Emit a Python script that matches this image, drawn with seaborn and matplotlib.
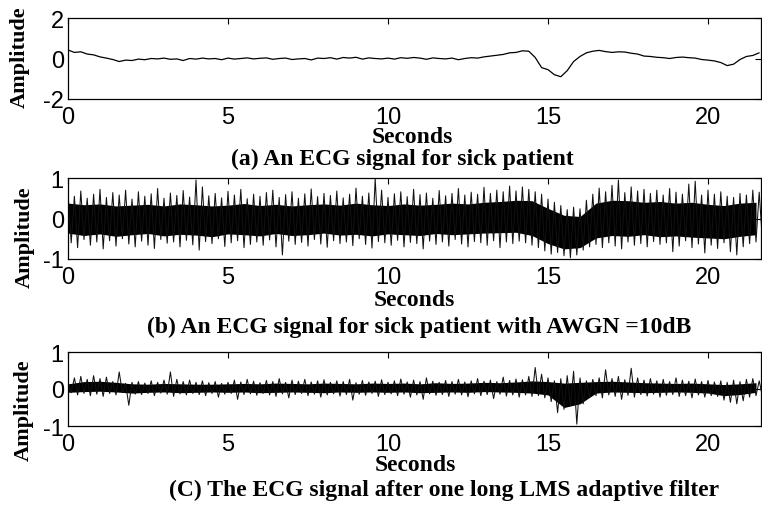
import numpy as np
import matplotlib
matplotlib.use('Agg')
import matplotlib.pyplot as plt
import seaborn as sns

# sample spacing used for the traces below (seconds)
dt = 0.2
dt_core = 0.5

# (a) clean ECG of the sick patient, one value every 0.2 s
ecg_a = [
    0.42, 0.30, 0.33, 0.22, 0.18, 0.08, 0.02, -0.05, -0.15, -0.08,
    -0.10, -0.03, -0.06, 0.00, -0.02, 0.02, -0.04, -0.02, -0.10, 0.00,
    -0.03, 0.02, -0.02, 0.00, -0.06, 0.02, -0.03, 0.00, 0.03, -0.02,
    0.01, 0.03, -0.04, 0.00, 0.02, -0.05, -0.02, 0.00, -0.07, 0.02,
    0.00, 0.04, -0.03, 0.05, 0.02, 0.06, -0.03, 0.03, 0.00, -0.02,
    0.02, -0.03, 0.04, 0.01, 0.05, 0.02, -0.04, 0.03, 0.00, -0.02,
    0.02, -0.06, 0.00, 0.04, 0.02, 0.08, 0.12, 0.16, 0.20, 0.28,
    0.30, 0.38, 0.36, 0.05, -0.45, -0.55, -0.80, -0.90, -0.60, -0.15,
    0.10, 0.28, 0.36, 0.40, 0.34, 0.30, 0.33, 0.32, 0.26, 0.22,
    0.12, 0.10, 0.06, 0.04, 0.00, 0.05, 0.07, 0.04, 0.02, -0.05,
    -0.08, -0.12, -0.20, -0.35, -0.28, -0.05, 0.10, 0.15, 0.28,
]

# (b) noisy ECG (AWGN 10 dB): spike tips above / below, every 0.2 s
noisy_hi = [
    0.62, 0.55, 0.68, 0.50, 0.60, 0.72, 0.52, 0.64, 0.58, 0.70,
    0.48, 0.66, 0.55, 0.61, 0.74, 0.50, 0.63, 0.57, 0.69, 0.53,
    0.95, 0.78, 0.56, 0.62, 0.51, 0.67, 0.58, 0.72, 0.49, 0.60,
    0.55, 0.64, 0.70, 0.52, 0.59, 0.66, 0.50, 0.61, 0.73, 0.54,
    0.62, 0.57, 0.68, 0.51, 0.60, 0.75, 0.55, 0.63, 0.98, 0.70,
    0.52, 0.61, 0.66, 0.54, 0.72, 0.59, 0.63, 0.50, 0.69, 0.56,
    0.62, 0.74, 0.58, 0.65, 0.60, 0.77, 0.62, 0.70, 0.66, 0.80,
    0.68, 0.78, 0.72, 0.66, 0.60, 0.48, 0.40, 0.32, 0.22, 0.28,
    0.24, 0.45, 0.60, 0.75, 0.66, 0.82, 0.95, 0.64, 0.78, 0.68,
    0.72, 0.62, 0.70, 0.58, 0.74, 0.65, 0.60, 0.85, 0.92, 0.58,
    0.70, 0.60, 0.66, 0.55, 0.52, 0.62, 0.58, 0.70, 0.65,
]
noisy_lo = [
    -0.60, -0.72, -0.52, -0.66, -0.58, -0.75, -0.55, -0.68, -0.50, -0.63,
    -0.70, -0.56, -0.66, -0.74, -0.52, -0.61, -0.58, -0.70, -0.54, -0.65,
    -0.78, -0.57, -0.62, -0.50, -0.69, -0.60, -0.55, -0.72, -0.64, -0.58,
    -0.66, -0.53, -0.70, -0.90, -0.56, -0.64, -0.59, -0.68, -0.52, -0.63,
    -0.71, -0.55, -0.62, -0.58, -0.67, -0.50, -0.64, -0.73, -0.57, -0.60,
    -0.66, -0.54, -0.70, -0.59, -0.62, -0.75, -0.56, -0.64, -0.58, -0.68,
    -0.52, -0.63, -0.70, -0.57, -0.60, -0.66, -0.55, -0.72, -0.58, -0.62,
    -0.56, -0.60, -0.66, -0.72, -0.80, -0.88, -0.84, -0.92, -0.97, -0.90,
    -0.78, -0.70, -0.64, -0.72, -0.60, -0.68, -0.75, -0.58, -0.66, -0.62,
    -0.70, -0.57, -0.64, -0.60, -0.82, -0.68, -0.55, -0.72, -0.63, -0.85,
    -0.66, -0.74, -0.60, -0.82, -0.90, -0.70, -0.62, -0.58, -0.55,
]
# dense black core of the noisy band, every 0.5 s
noisy_core_hi = [
    0.38, 0.34, 0.36, 0.31, 0.33, 0.35, 0.31, 0.36, 0.34, 0.31,
    0.33, 0.37, 0.32, 0.35, 0.31, 0.34, 0.36, 0.33, 0.38, 0.34,
    0.32, 0.36, 0.33, 0.35, 0.38, 0.36, 0.40, 0.42, 0.45, 0.44,
    0.25, 0.08, 0.05, 0.38, 0.45, 0.44, 0.40, 0.42, 0.38, 0.40,
    0.35, 0.32, 0.38, 0.40,
]
noisy_core_lo = [
    -0.36, -0.42, -0.38, -0.44, -0.40, -0.37, -0.43, -0.39, -0.41, -0.45,
    -0.38, -0.40, -0.43, -0.37, -0.42, -0.40, -0.36, -0.41, -0.39, -0.43,
    -0.38, -0.40, -0.42, -0.37, -0.40, -0.38, -0.36, -0.35, -0.34, -0.42,
    -0.62, -0.75, -0.72, -0.48, -0.42, -0.44, -0.40, -0.45, -0.43, -0.46,
    -0.48, -0.50, -0.44, -0.40,
]

# (c) after the LMS adaptive filter
filt_hi = [
    0.18, 0.30, 0.34, 0.26, 0.36, 0.28, 0.32, 0.20, 0.46, 0.15,
    0.18, 0.20, 0.16, 0.22, 0.18, 0.24, 0.46, 0.26, 0.20, 0.24,
    0.18, 0.22, 0.17, 0.20, 0.15, 0.18, 0.24, 0.19, 0.26, 0.21,
    0.17, 0.23, 0.20, 0.28, 0.18, 0.24, 0.21, 0.26, 0.19, 0.22,
    0.25, 0.18, 0.22, 0.20, 0.26, 0.17, 0.23, 0.19, 0.21, 0.25,
    0.18, 0.22, 0.27, 0.19, 0.24, 0.20, 0.30, 0.21, 0.18, 0.23,
    0.20, 0.26, 0.19, 0.22, 0.28, 0.21, 0.24, 0.20, 0.32, 0.23,
    0.27, 0.25, 0.34, 0.58, 0.40, 0.30, 0.22, 0.28, 0.36, 0.48,
    0.30, 0.22, 0.26, 0.30, 0.52, 0.28, 0.34, 0.25, 0.56, 0.30,
    0.24, 0.28, 0.22, 0.26, 0.20, 0.30, 0.24, 0.21, 0.27, 0.20,
    0.23, 0.19, 0.22, 0.18, 0.24, 0.20, 0.26, 0.28, 0.22,
]
filt_lo = [
    -0.10, -0.16, -0.12, -0.18, -0.14, -0.20, -0.12, -0.16, -0.10, -0.44,
    -0.14, -0.15, -0.12, -0.18, -0.11, -0.14, -0.20, -0.13, -0.16, -0.12,
    -0.15, -0.18, -0.12, -0.22, -0.14, -0.12, -0.28, -0.15, -0.13, -0.17,
    -0.12, -0.16, -0.20, -0.13, -0.24, -0.15, -0.12, -0.18, -0.14, -0.22,
    -0.16, -0.13, -0.19, -0.15, -0.30, -0.14, -0.17, -0.12, -0.20, -0.15,
    -0.13, -0.18, -0.14, -0.22, -0.16, -0.28, -0.13, -0.17, -0.15, -0.20,
    -0.14, -0.16, -0.21, -0.13, -0.18, -0.15, -0.26, -0.14, -0.19, -0.16,
    -0.22, -0.16, -0.20, -0.18, -0.24, -0.34, -0.64, -0.55, -0.45, -0.95,
    -0.40, -0.22, -0.18, -0.24, -0.16, -0.20, -0.28, -0.17, -0.22, -0.15,
    -0.19, -0.14, -0.22, -0.17, -0.15, -0.20, -0.18, -0.24, -0.16, -0.22,
    -0.18, -0.20, -0.30, -0.36, -0.40, -0.32, -0.22, -0.18, -0.20,
]
filt_core_hi = [
    0.14, 0.20, 0.21, 0.18, 0.14, 0.13, 0.15, 0.14, 0.13, 0.13,
    0.14, 0.15, 0.14, 0.16, 0.15, 0.14, 0.16, 0.15, 0.14, 0.16,
    0.15, 0.16, 0.14, 0.17, 0.15, 0.16, 0.18, 0.17, 0.19, 0.22,
    0.20, 0.16, 0.18, 0.20, 0.21, 0.19, 0.17, 0.16, 0.15, 0.16,
    0.14, 0.12, 0.14, 0.17,
]
filt_core_lo = [
    -0.09, -0.07, -0.06, -0.08, -0.11, -0.09, -0.08, -0.10, -0.09, -0.08,
    -0.09, -0.08, -0.10, -0.09, -0.08, -0.09, -0.10, -0.08, -0.09, -0.08,
    -0.09, -0.08, -0.10, -0.09, -0.08, -0.09, -0.07, -0.08, -0.09, -0.11,
    -0.16, -0.50, -0.40, -0.11, -0.08, -0.09, -0.10, -0.09, -0.08, -0.09,
    -0.11, -0.18, -0.15, -0.09,
]

x_ticks = [0, 5, 10, 15, 20]
captions = [
    '(a) An ECG signal for sick patient',
    '(b) An ECG signal for sick patient with AWGN =10dB',
    '(C) The ECG signal after one long LMS adaptive filter',
]

sns.set_style('white')
plt.rcParams['font.family'] = ['Liberation Sans', 'DejaVu Sans']
plt.rcParams['axes.unicode_minus'] = False

W, H = 762, 506
fig = plt.figure(figsize=(W / 100, H / 100), dpi=100)


def px_axes(left, top, right, bottom):
    return fig.add_axes([left / W, 1 - bottom / H, (right - left) / W, (bottom - top) / H])


def style_axes(ax, ylim, yticks):
    ax.set_xlim(0, (761 - 68) / 32)
    ax.set_ylim(*ylim)
    ax.set_xticks(x_ticks)
    ax.set_yticks(yticks)
    ax.tick_params(direction='in', length=4, width=0.8, top=True, right=True,
                   labelsize=17, colors='black')
    ax.tick_params(axis='x', pad=5)
    ax.tick_params(axis='y', pad=3)
    for s in ax.spines.values():
        s.set_linewidth(0.9)
        s.set_color('black')
    ax.set_xlabel('')
    ax.set_ylabel('')


def draw_noise(ax, hi, lo, core_hi, core_lo):
    tc = np.arange(len(core_hi)) * dt_core
    ax.fill_between(tc, core_lo, core_hi, color='black', linewidth=0)
    # trace runs tip to tip: high value, then the low value half a step later
    t = np.arange(len(hi)) * dt
    tt = np.column_stack([t, t + dt / 2]).ravel()
    yy = np.column_stack([hi, lo]).ravel()
    sns.lineplot(x=tt, y=yy, ax=ax, color='#111111', linewidth=0.75,
                 estimator=None, sort=False)


# panel (a)
ax1 = px_axes(68, 19, 761, 100)
t_a = np.arange(len(ecg_a)) * dt
sns.lineplot(x=t_a, y=ecg_a, ax=ax1, color='black', linewidth=0.9)
style_axes(ax1, (-2, 2), [-2, 0, 2])

# panel (b)
ax2 = px_axes(68, 179, 761, 260)
draw_noise(ax2, noisy_hi, noisy_lo, noisy_core_hi, noisy_core_lo)
style_axes(ax2, (-1, 1), [-1, 0, 1])

# panel (c)
ax3 = px_axes(68, 353, 761, 427)
draw_noise(ax3, filt_hi, filt_lo, filt_core_hi, filt_core_lo)
style_axes(ax3, (-1, 1), [-1, 0, 1])

serif = dict(family='Liberation Serif', fontweight='bold', color='black')

# x labels
for xc, yb in [(412, 143), (414, 306), (415, 471)]:
    fig.text(xc / W, 1 - yb / H, 'Seconds', ha='center', va='baseline', fontsize=17, **serif)

# captions
for cap, xc, yb in zip(captions, [402, 419, 444], [165, 333, 496]):
    fig.text(xc / W, 1 - yb / H, cap, ha='center', va='baseline', fontsize=17, **serif)

# y labels
for xc, yc in [(20, 57), (25, 237), (24, 410)]:
    fig.text(xc / W, 1 - yc / H, 'Amplitude', ha='center', va='center', rotation=90,
             fontsize=16, **serif)

fig.savefig('out.png', dpi=100)
